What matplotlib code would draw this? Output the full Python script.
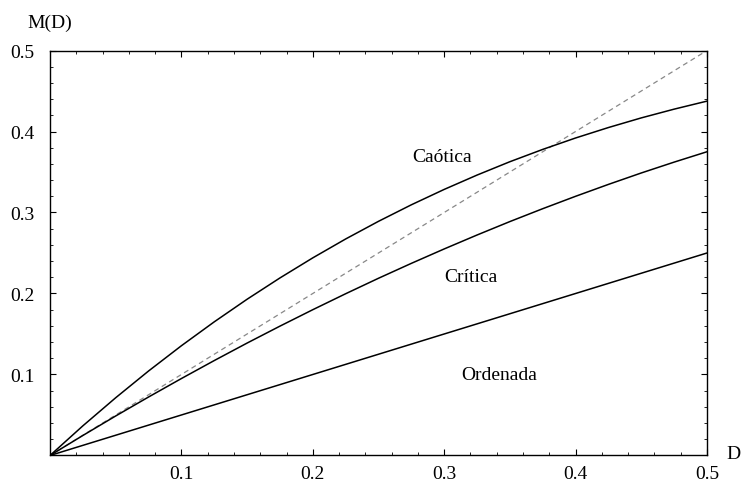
import matplotlib
matplotlib.use("Agg")
import matplotlib.pyplot as plt
from matplotlib.ticker import MultipleLocator, FixedLocator

plt.rcParams['font.family'] = ['Liberation Serif', 'DejaVu Serif']

# Damage spreading map M(D) sampled along D
D = [0.0, 0.025, 0.05, 0.075, 0.1, 0.125, 0.15, 0.175, 0.2, 0.225, 0.25,
     0.275, 0.3, 0.325, 0.35, 0.375, 0.4, 0.425, 0.45, 0.475, 0.5]
m_caotica = [0.0, 0.0366, 0.0713, 0.1043, 0.1355, 0.1650, 0.1929, 0.2192,
             0.2440, 0.2673, 0.2891, 0.3095, 0.3285, 0.3462, 0.3627, 0.3779,
             0.3920, 0.4049, 0.4168, 0.4276, 0.4375]
m_critica = [0.0, 0.0247, 0.0488, 0.0722, 0.0950, 0.1172, 0.1388, 0.1597,
             0.1800, 0.1997, 0.2188, 0.2372, 0.2550, 0.2722, 0.2888, 0.3047,
             0.3200, 0.3347, 0.3488, 0.3622, 0.3750]
m_ordenada = [0.0, 0.0125, 0.025, 0.0375, 0.05, 0.0625, 0.075, 0.0875, 0.1,
              0.1125, 0.125, 0.1375, 0.15, 0.1625, 0.175, 0.1875, 0.2, 0.2125,
              0.225, 0.2375, 0.25]
diag_x = [0.0, 0.5]
diag_y = [0.0, 0.5]

region_labels = ["Caótica", "Crítica", "Ordenada"]
label_pos = [(0.298, 0.364), (0.320, 0.215), (0.342, 0.094)]
tick_vals = [0.1, 0.2, 0.3, 0.4, 0.5]
tick_text = ["0.1", "0.2", "0.3", "0.4", "0.5"]

FS = 14

fig = plt.figure(figsize=(7.42, 4.85), dpi=100)
ax = fig.add_axes([0.0674, 0.0588, 0.9528 - 0.0674, 0.8938 - 0.0588])

ax.plot(diag_x, diag_y, color='#888888', lw=0.9, dashes=(4, 3))
for ys in (m_caotica, m_critica, m_ordenada):
    ax.plot(D, ys, color='black', lw=1.1)

for txt, (x, y) in zip(region_labels, label_pos):
    ax.text(x, y, txt, ha='center', va='baseline', fontsize=FS)

ax.set_xlim(0, 0.5)
ax.set_ylim(0, 0.5)
ax.xaxis.set_major_locator(FixedLocator(tick_vals))
ax.yaxis.set_major_locator(FixedLocator(tick_vals))
ax.set_xticklabels(tick_text)
ax.set_yticklabels(tick_text)
ax.xaxis.set_minor_locator(MultipleLocator(0.02))
ax.yaxis.set_minor_locator(MultipleLocator(0.02))
ax.tick_params(which='major', direction='in', length=4.5, width=0.8,
               top=True, right=True, labelsize=FS)
ax.tick_params(axis='x', which='major', pad=7)
ax.tick_params(axis='y', which='major', pad=11)
ax.tick_params(which='minor', direction='in', length=2.5, width=0.6,
               top=True, right=True)
for s in ax.spines.values():
    s.set_linewidth(1.0)

fig.text(50 / 742, 1 - 28 / 485, "M(D)", ha='center', va='baseline', fontsize=FS)
fig.text(733 / 742, 1 - 455 / 485, "D", ha='center', va='center', fontsize=FS)

fig.savefig("out.png", dpi=100)
